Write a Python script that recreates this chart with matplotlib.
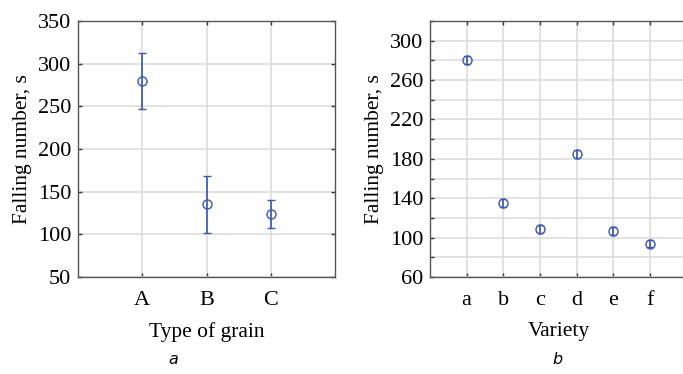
import numpy as np
import matplotlib.pyplot as plt
from matplotlib.ticker import MultipleLocator

# Panel a: type of grain
grain = ['A', 'B', 'C']
grain_mean = [280, 135, 124]
grain_low = [247, 102, 107]
grain_high = [313, 168, 140]

# Panel b: variety
variety = ['a', 'b', 'c', 'd', 'e', 'f']
variety_mean = [280, 135, 109, 185, 107, 94]
variety_err = [4, 4, 4, 4, 4, 4]

blue = '#3a55b4'
plt.rcParams['font.family'] = ['Liberation Serif', 'DejaVu Serif']

fig = plt.figure(figsize=(6.83, 3.74), dpi=100)
ax1 = fig.add_axes([0.1142, 0.2594, 0.3763, 0.6845])
ax2 = fig.add_axes([0.6296, 0.2594, 0.3758, 0.6845])


def style(ax):
    ax.set_axisbelow(True)
    ax.grid(True, which='both', color='#dddddd', linewidth=1.2)
    for s in ax.spines.values():
        s.set_color('#555555')
        s.set_linewidth(1.0)
    ax.tick_params(which='both', direction='in', top=True, right=True,
                   length=3, width=1.0, color='#333333', labelsize=16)
    ax.tick_params(axis='y', pad=5)
    ax.tick_params(axis='x', pad=10)


# Panel a
x1 = np.arange(len(grain))
m1 = np.array(grain_mean)
err1 = [m1 - np.array(grain_low), np.array(grain_high) - m1]
ax1.errorbar(x1, m1, yerr=err1, fmt='o', mfc='none', mec=blue, color=blue,
             ms=6.5, mew=1.0, elinewidth=1.2, capsize=3, capthick=1.2)
ax1.set_xlim(-1, 3)
ax1.set_ylim(50, 350)
ax1.set_xticks(x1)
ax1.set_xticklabels(grain)
ax1.yaxis.set_major_locator(MultipleLocator(50))
style(ax1)
ax1.set_xlabel('Type of grain', fontsize=15.5, labelpad=9)
ax1.set_ylabel('Falling number, s', fontsize=15.5, labelpad=4)

# Panel b
x2 = np.arange(len(variety))
ax2.errorbar(x2, variety_mean, yerr=variety_err, fmt='o', mfc='none', mec=blue,
             color=blue, ms=6.5, mew=1.0, elinewidth=1.2, capsize=2, capthick=1.2)
ax2.set_xlim(-1, 6)
ax2.set_ylim(60, 320)
ax2.set_xticks(x2)
ax2.set_xticklabels(variety)
ax2.set_yticks(np.arange(60, 301, 40))
ax2.yaxis.set_minor_locator(MultipleLocator(20))
style(ax2)
ax2.set_xlabel('Variety', fontsize=15.5, labelpad=9)
ax2.set_ylabel('Falling number, s', fontsize=15.5, labelpad=4)

# Panel captions
fig.text(173 / 683, 1 - 359 / 374, 'a', fontsize=11.5, style='italic',
         family='DejaVu Sans', ha='center', va='center')
fig.text(557 / 683, 1 - 359 / 374, 'b', fontsize=11.5, style='italic',
         family='DejaVu Sans', ha='center', va='center')

fig.savefig('out.png', dpi=100)
